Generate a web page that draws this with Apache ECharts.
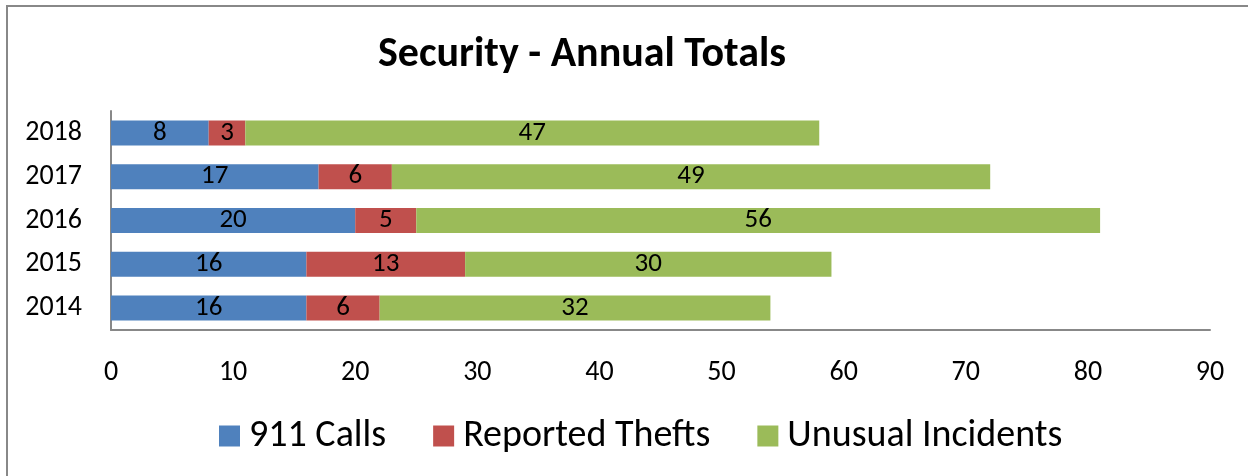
<!DOCTYPE html>
<html>
<head>
<meta charset="utf-8">
<script src="https://cdn.jsdelivr.net/npm/echarts@6/dist/echarts.min.js"></script>
<style>
html,body{margin:0;padding:0;background:#fff;}
#main{width:1248px;height:476px;}
</style>
</head>
<body>
<div id="main"></div>
<script>
// 数据
var years = ['2014', '2015', '2016', '2017', '2018'];
var calls911 = [16, 16, 20, 17, 8];
var thefts = [6, 13, 5, 6, 3];
var incidents = [32, 30, 56, 49, 47];
var seriesNames = ['911 Calls', 'Reported Thefts', 'Unusual Incidents'];
var colorArray = ['#4F81BD', '#C0504D', '#9BBB59'];

var font = 'Carlito, Lato, sans-serif';

function makeSeries(name, data, color){
	return {
		name: name,
		type: 'bar',
		stack: 'total',
		barWidth: 25,
		data: data,
		itemStyle: { color: color },
		label: {
			show: true,
			position: 'inside',
			color: '#000',
			fontSize: 27,
			fontFamily: font
		}
	};
}

var chart = echarts.init(document.getElementById('main'));
var option = {
	animation: false,
	title: {
		text: 'Security - Annual Totals',
		left: 373,
		top: 29,
		textStyle: {
			fontFamily: font,
			fontWeight: 'bold',
			fontSize: 42,
			color: '#000'
		}
	},
	legend: {
		data: seriesNames,
		left: 214,
		top: 412,
		itemWidth: 21,
		itemHeight: 21,
		itemGap: 47,
		icon: 'rect',
		textStyle: {
			fontFamily: font,
			fontSize: 38,
			color: '#000',
			padding: [0, 0, 0, 4]
		}
	},
	grid: {
		left: 111,
		right: 38,
		top: 111,
		bottom: 146,
		containLabel: false
	},
	xAxis: {
		type: 'value',
		min: 0,
		max: 90,
		interval: 10,
		splitLine: { show: false },
		axisTick: { show: false },
		axisLine: { show: true, lineStyle: { color: '#888', width: 2 } },
		axisLabel: { margin: 29, fontFamily: font, fontSize: 28, color: '#000' }
	},
	yAxis: {
		type: 'category',
		data: years,
		axisTick: { show: false },
		axisLine: { show: true, lineStyle: { color: '#888', width: 2 } },
		axisLabel: { margin: 29, fontFamily: font, fontSize: 28, color: '#000' }
	},
	graphic: [{
		type: 'rect',
		shape: { x: 7, y: 6, width: 1260, height: 500 },
		style: { fill: 'none', stroke: '#888', lineWidth: 2 },
		silent: true
	}],
	series: [
		makeSeries(seriesNames[0], calls911, colorArray[0]),
		makeSeries(seriesNames[1], thefts, colorArray[1]),
		makeSeries(seriesNames[2], incidents, colorArray[2])
	]
};
chart.setOption(option);
</script>
</body>
</html>
